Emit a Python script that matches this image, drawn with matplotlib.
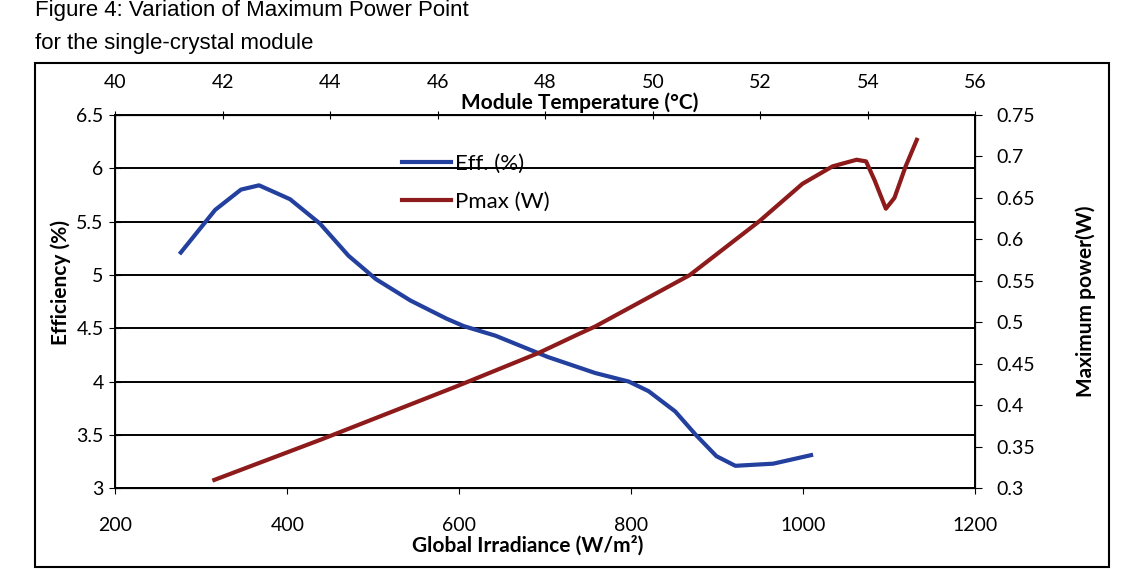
import numpy as np
from matplotlib import pyplot as plt
from matplotlib.lines import Line2D
from matplotlib.patches import Rectangle

# efficiency (%) vs global irradiance (W/m2)
irr_eff = [276, 316, 346, 367, 403, 438, 471, 503, 543, 585, 605, 642, 703,
           758, 797, 820, 851, 875, 899, 921, 965, 1009]
eff = [5.21, 5.61, 5.80, 5.84, 5.71, 5.48, 5.18, 4.96, 4.76, 4.59, 4.52, 4.43,
       4.23, 4.08, 4.00, 3.91, 3.72, 3.50, 3.30, 3.21, 3.23, 3.31]

# maximum power (W) vs global irradiance
irr_p = [315, 440, 596, 692, 739, 758, 868, 949, 999, 1034, 1062, 1073, 1083,
         1096, 1106, 1119, 1132]
pmax = [0.310, 0.359, 0.4225, 0.463, 0.486, 0.495, 0.557, 0.622, 0.667, 0.688,
        0.696, 0.694, 0.671, 0.637, 0.650, 0.688, 0.720]

eff_ticks = [3, 3.5, 4, 4.5, 5, 5.5, 6, 6.5]
p_ticks = [0.3, 0.35, 0.4, 0.45, 0.5, 0.55, 0.6, 0.65, 0.7, 0.75]
irr_ticks = [200, 400, 600, 800, 1000, 1200]
temp_ticks = [40, 42, 44, 46, 48, 50, 52, 54, 56]

plt.rcParams['font.family'] = ['Lato', 'DejaVu Sans']

blue = '#23409e'
red = '#8e1b1b'

fig = plt.figure(figsize=(11.21, 5.69), dpi=100)
ax = fig.add_axes([0.103, 0.142, 0.767, 0.656])

# outer chart border
fig.patches.append(Rectangle((0.031, 0.004), 0.958, 0.886, transform=fig.transFigure,
                             fill=False, edgecolor='black', linewidth=1.5))
fig.text(0.031, 0.972, "Figure 4: Variation of Maximum Power Point",
         family=['Liberation Sans'], fontsize=16, va='baseline')
fig.text(0.031, 0.905, "for the single-crystal module",
         family=['Liberation Sans'], fontsize=16, va='bottom')

ax.plot(irr_eff, eff, color=blue, linewidth=3)
ax.set_xlim(200, 1200)
ax.set_ylim(3, 6.5)
ax.set_xticks(irr_ticks)
ax.set_yticks(eff_ticks)
ax.set_yticklabels([f"{v:g}" for v in eff_ticks])
ax.yaxis.grid(True, color='black', linewidth=1.4)
ax.tick_params(axis='y', direction='inout', length=9, labelsize=14, pad=4)
ax.tick_params(axis='x', direction='out', length=4, labelsize=14, pad=17)
for s in ax.spines.values():
    s.set_linewidth(1.4)
ax.set_ylabel("Efficiency (%)", fontsize=15, fontweight='bold')
ax.yaxis.set_label_coords(-0.052, 0.55)
ax.set_xlabel("Global Irradiance (W/m²)", fontsize=15, fontweight='bold')
ax.xaxis.set_label_coords(0.48, -0.125)

ax2 = ax.twinx()
ax2.plot(irr_p, pmax, color=red, linewidth=3)
ax2.set_ylim(0.3, 0.75)
ax2.set_yticks(p_ticks)
ax2.set_yticklabels([f"{v:g}" for v in p_ticks])
ax2.tick_params(axis='y', direction='out', length=5, labelsize=14, pad=10)
ax2.set_ylabel("Maximum power(W)", fontsize=15, fontweight='bold')
ax2.yaxis.set_label_coords(1.116, 0.5)

ax3 = ax.twiny()
ax3.set_xlim(40, 56)
ax3.set_xticks(temp_ticks)
ax3.tick_params(axis='x', direction='inout', length=6, labelsize=14, pad=14)
ax3.set_xlabel("Module Temperature (°C)", fontsize=15, fontweight='bold')
ax3.xaxis.set_label_coords(0.54, 1.005)
ax3.xaxis.label.set_va('bottom')

handles = [Line2D([], [], color=blue, linewidth=3),
           Line2D([], [], color=red, linewidth=3)]
ax.legend(handles, ["Eff. (%)", "Pmax (W)"], loc='upper left',
          bbox_to_anchor=(0.31, 0.95), frameon=False, fontsize=16,
          handlelength=2.2, handletextpad=0.2, labelspacing=0.8)

plt.savefig("out.png", dpi=100)
